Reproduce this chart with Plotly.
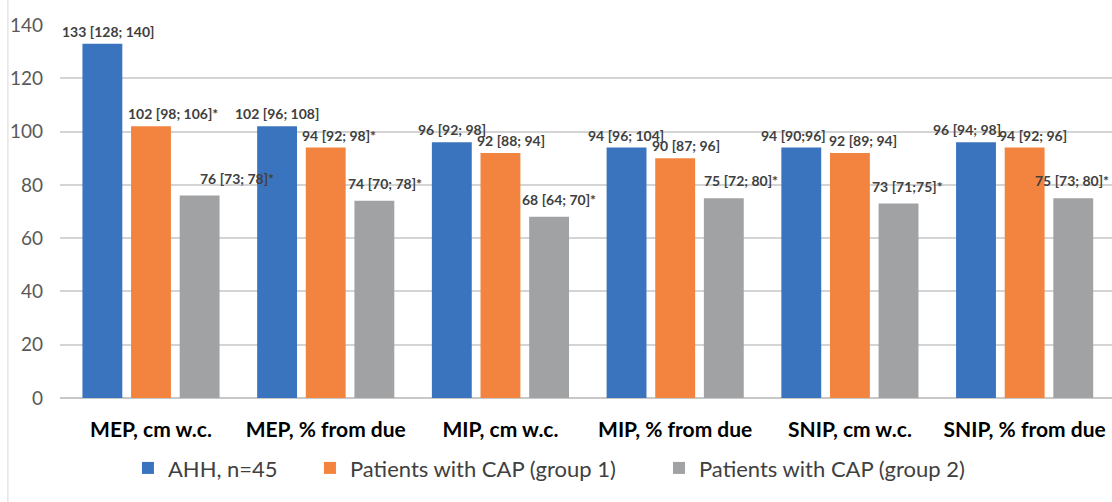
import plotly.graph_objects as go

categories = ["MEP, cm w.c.", "MEP, % from due", "MIP, cm w.c.",
              "MIP, % from due", "SNIP, cm w.c.", "SNIP, % from due"]
series_names = ["AHH, n=45", "Patients with CAP (group 1)", "Patients with CAP (group 2)"]
ahh = [133, 102, 96, 94, 94, 96]
cap1 = [102, 94, 92, 90, 92, 94]
cap2 = [76, 74, 68, 75, 73, 75]
ahh_labels = ["133 [128; 140]", "102 [96; 108]", "96 [92; 98]", "94 [96; 104]", "94 [90;96]", "96 [94; 98]"]
cap1_labels = ["102 [98; 106]*", "94 [92; 98]*", "92 [88; 94]", "90 [87; 96]", "92 [89; 94]", "94 [92; 96]"]
cap2_labels = ["76 [73; 78]*", "74 [70; 78]*", "68 [64; 70]*", "75 [72; 80]*", "73 [71;75]*", "75 [73; 80]*"]
y_ticks = [0, 20, 40, 60, 80, 100, 120, 140]

# styling
colors = ["#3b74be", "#f2843f", "#a0a2a4"]
FONT = "Lato"
legend_ids = ["legend", "legend2", "legend3"]
legend_x = [0.0646, 0.2376, 0.5694]
pitch = 49                                   # px between bars of a group
series_dx = [-pitch, 0, pitch]               # bar centre offset from category centre
series_dy = [2, 2, 7]
label_nudge = [[6, 0, 1, 0, -7, -9],         # label offsets from bar centre (px)
               [22, 13, 11, 11, 13, 8],
               [37, 10, 10, 17, 9, -2]]

fig = go.Figure()
for name, vals, col, lg in zip(series_names, [ahh, cap1, cap2], colors, legend_ids):
    fig.add_trace(go.Bar(x=categories, y=vals, name=name, legend=lg,
                         marker=dict(color=col, line=dict(width=0))))

for s, (labels, vals) in enumerate(zip([ahh_labels, cap1_labels, cap2_labels], [ahh, cap1, cap2])):
    for i, (c, v, t) in enumerate(zip(categories, vals, labels)):
        fig.add_annotation(x=c, y=v, text=t, showarrow=False,
                           xshift=series_dx[s] + label_nudge[s][i], yshift=series_dy[s],
                           yanchor="bottom", xanchor="center",
                           font=dict(family=FONT, size=14, color="#404040", weight="bold"))

fig.add_shape(type="line", xref="paper", yref="paper", x0=-0.0495, x1=-0.0495,
              y0=-0.3, y1=1.1, line=dict(color="#d9d9d9", width=1))

legend_common = dict(orientation="h", xanchor="left", y=-0.188, yanchor="middle",
                     font=dict(family=FONT, size=22, color="#404040"),
                     itemwidth=30, bgcolor="rgba(0,0,0,0)")

fig.update_layout(
    width=1112, height=502,
    margin=dict(l=60, r=0, t=25, b=104),
    paper_bgcolor="white", plot_bgcolor="white",
    barmode="group", bargap=0.165, bargroupgap=0.18,
    font=dict(family=FONT),
    showlegend=True,
    legend=dict(x=legend_x[0], **legend_common),
    legend2=dict(x=legend_x[1], **legend_common),
    legend3=dict(x=legend_x[2], **legend_common),
    xaxis=dict(showgrid=False, showline=False, ticks="",
               tickfont=dict(family=FONT, size=21, color="black", weight="bold"),
               ticklabelstandoff=17),
    yaxis=dict(range=[0, 140], tickvals=y_ticks, showgrid=True, gridcolor="#d4d4d4",
               gridwidth=1.5, zeroline=True, zerolinecolor="#c8c8c8", zerolinewidth=2,
               tickfont=dict(family=FONT, size=19, color="#595959"),
               ticklabelstandoff=16, showline=False),
)

fig.write_html("out.html", config={"displayModeBar": False},
               post_script="document.body.style.margin='0';document.body.style.overflow='hidden';")
